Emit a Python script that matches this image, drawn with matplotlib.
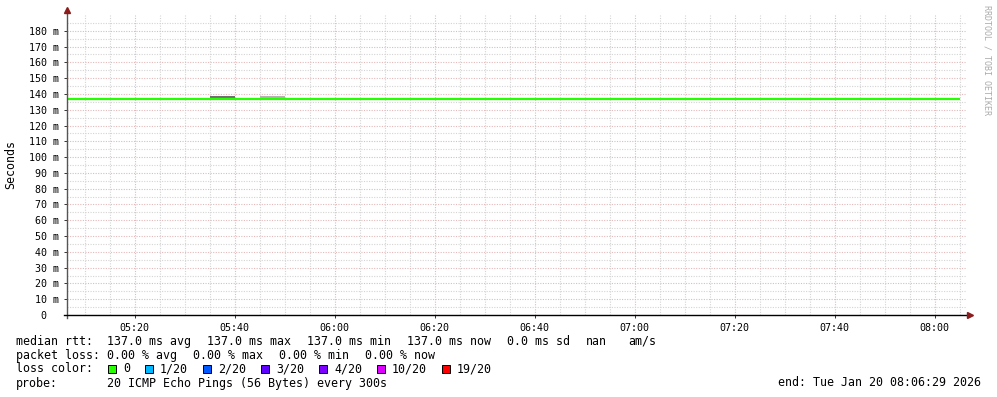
import matplotlib
matplotlib.use("Agg")
import matplotlib.pyplot as plt
from matplotlib.patches import Rectangle

# time in minutes after 05:00
x_start = 6 + 29 / 60          # 05:06:29
x_end = 186 + 29 / 60          # 08:06:29
tick_labels = ["05:20", "05:40", "06:00", "06:20", "06:40",
               "07:00", "07:20", "07:40", "08:00"]

# median rtt (ms) per 5 min step, steps start at 05:05 and end at 08:05
step_edges = [5, 10, 15, 20, 25, 30, 35, 40, 45, 50, 55, 60, 65, 70, 75, 80,
              85, 90, 95, 100, 105, 110, 115, 120, 125, 130, 135, 140, 145,
              150, 155, 160, 165, 170, 175, 180, 185]
median_ms = [137.0, 137.0, 137.0, 137.0, 137.0, 137.0, 137.0, 137.0, 137.0,
             137.0, 137.0, 137.0, 137.0, 137.0, 137.0, 137.0, 137.0, 137.0,
             137.0, 137.0, 137.0, 137.0, 137.0, 137.0, 137.0, 137.0, 137.0,
             137.0, 137.0, 137.0, 137.0, 137.0, 137.0, 137.0, 137.0, 137.0]

# visible smoke (ping spread) segments
smoke_start = [35, 45]
smoke_lo = [137.0, 137.0]
smoke_hi = [138.8, 138.8]
smoke_color = ["#6e6e6e", "#b2b2b2"]

loss_labels = ["0", "1/20", "2/20", "3/20", "4/20", "10/20", "19/20"]
loss_colors = ["#26ff00", "#00b8ff", "#0059ff", "#5e00ff", "#7e00ff", "#dd00ff", "#ff0000"]

W, H = 997, 397
mono = "DejaVu Sans Mono"
plt.rcParams['font.family'] = [mono]

fig = plt.figure(figsize=(W / 100, H / 100), dpi=100)
fig.patch.set_facecolor("white")
ax = fig.add_axes([67 / W, 82 / H, 900 / W, 300 / H])

ax.set_xlim(x_start, x_end)
ax.set_ylim(0, 190)

# grid
ax.set_yticks(range(0, 190, 10))
ax.set_yticks(range(5, 190, 10), minor=True)
ax.set_yticklabels(["0  "] + [f"{v} m" for v in range(10, 190, 10)])
xt = [int(s[:2]) * 60 + int(s[3:]) - 300 for s in tick_labels]
ax.set_xticks(xt)
ax.set_xticklabels(tick_labels)
ax.set_xticks([m for m in range(10, 186, 5) if m not in xt], minor=True)
ax.grid(which="major", color="#e4b9b9", linestyle=(0, (1, 1.3)), lw=0.8)
ax.grid(which="minor", color="#d4d4d4", linestyle=(0, (1, 1.3)), lw=0.8)
ax.set_axisbelow(True)
ax.tick_params(axis="both", which="major", labelsize=7.2, length=2.5, width=0.7,
               color="#333333", direction="out")
ax.tick_params(axis="both", which="minor", length=0)
ax.tick_params(axis="y", pad=3)
ax.tick_params(axis="x", pad=3.5)

for s in ax.spines.values():
    s.set_visible(False)

# smoke
for st, lo, hi, c in zip(smoke_start, smoke_lo, smoke_hi, smoke_color):
    ax.bar(st, hi - lo, bottom=lo, width=5, align="edge", color=c, lw=0)

# median line
ax.stairs(median_ms, step_edges, baseline=None, color="#26ff00", lw=1.6)

# axes with arrows
ax.plot([0, 0], [-0.01, 1.012], transform=ax.transAxes, color="#555555",
        lw=1, clip_on=False)
ax.plot([-0.003, 1.004], [0, 0], transform=ax.transAxes, color="black",
        lw=1, clip_on=False)
ax.plot([0], [1.017], marker="^", ms=5, color="#8b1c1c", transform=ax.transAxes,
        clip_on=False)
ax.plot([1.0035], [0], marker=">", ms=5, color="#8b1c1c", transform=ax.transAxes,
        clip_on=False)

def ftext(x, y, s, **kw):
    kw.setdefault("fontsize", 8.37)
    kw.setdefault("va", "baseline")
    return fig.text(x / W, 1 - y / H, s, **kw)

ftext(11, 164, "Seconds", rotation=90, ha="center", va="center")
ftext(987, 60, "RRDTOOL / TOBI OETIKER", rotation=270, ha="center", va="center",
      fontsize=6, color="#ababab")

# legend block
ftext(16, 345, "median rtt:")
for x, s in zip([107, 207, 307, 407, 507, 586, 628],
                ["137.0 ms avg", "137.0 ms max", "137.0 ms min", "137.0 ms now",
                 "0.0 ms sd", "nan", "am/s"]):
    ftext(x, 345, s)
ftext(16, 359, "packet loss:")
for x, s in zip([107, 193, 279, 365],
                ["0.00 % avg", "0.00 % max", "0.00 % min", "0.00 % now"]):
    ftext(x, 359, s)
ftext(16, 372.5, "loss color:")
x = 108
for lab, col in zip(loss_labels, loss_colors):
    fig.patches.append(Rectangle((x / W, 1 - 373 / H), 8 / W, 8 / H,
                                 transform=fig.transFigure, facecolor=col,
                                 edgecolor="black", lw=0.7))
    ftext(x + 15, 372.5, lab)
    x = x + 15 + len(lab) * 7 + 15
ftext(16, 386.5, "probe:")
ftext(107, 386.5, "20 ICMP Echo Pings (56 Bytes) every 300s")
ftext(981, 386.5, "end: Tue Jan 20 08:06:29 2026", ha="right")

fig.savefig("out.png", dpi=100)
